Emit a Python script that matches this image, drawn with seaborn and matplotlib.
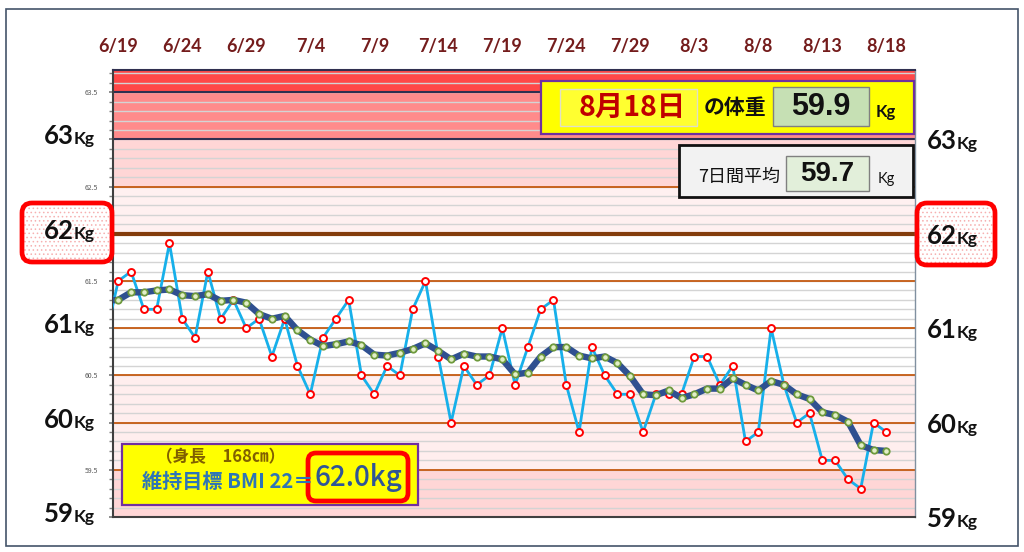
import numpy as np
import pandas as pd
import matplotlib
matplotlib.use("Agg")
import matplotlib.pyplot as plt
import seaborn as sns
from matplotlib.patches import Rectangle, FancyBboxPatch
from matplotlib.transforms import IdentityTransform, blended_transform_factory

# ---------------- data ----------------
dates = [f"{d.month}/{d.day}" for d in pd.date_range("2021-06-18", "2021-08-18")]
weights = [60.9,
           61.5, 61.6, 61.2, 61.2, 61.9, 61.1, 60.9, 61.6, 61.1, 61.3,
           61.0, 61.1, 60.7, 61.1, 60.6, 60.3, 60.9, 61.1, 61.3, 60.5,
           60.3, 60.6, 60.5, 61.2, 61.5, 60.7, 60.0, 60.6, 60.4, 60.5,
           61.0, 60.4, 60.8, 61.2, 61.3, 60.4, 59.9, 60.8, 60.5, 60.3,
           60.3, 59.9, 60.3, 60.3, 60.3, 60.7, 60.7, 60.4, 60.6, 59.8,
           59.9, 61.0, 60.4, 60.0, 60.1, 59.6, 59.6, 59.4, 59.3, 60.0,
           59.9]
avg7 = [61.29,
        61.30, 61.38, 61.38, 61.40, 61.41, 61.35, 61.34, 61.36, 61.29, 61.30,
        61.27, 61.15, 61.10, 61.13, 60.98, 60.88, 60.81, 60.83, 60.86, 60.82,
        60.72, 60.71, 60.74, 60.78, 60.84, 60.76, 60.67, 60.73, 60.70, 60.70,
        60.67, 60.51, 60.53, 60.70, 60.80, 60.80, 60.71, 60.68, 60.70, 60.63,
        60.49, 60.30, 60.29, 60.34, 60.26, 60.30, 60.36, 60.36, 60.47, 60.40,
        60.34, 60.44, 60.40, 60.30, 60.25, 60.11, 60.08, 60.01, 59.76, 59.71,
        59.70]
tick_dates = dates[1::5]
big_ticks = [59, 60, 61, 62, 63]
small_ticks = [59.5, 60.5, 61.5, 62.5, 63.5]
height_cm = 168
bmi_target = 22
target_kg = 62.0

df = pd.DataFrame({"idx": np.arange(len(dates)) - 1, "date": dates,
                   "weight": weights, "avg": avg7})

# ---------------- figure ----------------
sns.set_theme(style="white")
plt.rcParams['font.family'] = ['Noto Sans CJK JP', 'DejaVu Sans']
plt.rcParams['hatch.linewidth'] = 0.6

W, H = 1024, 552
fig = plt.figure(figsize=(W / 100, H / 100), dpi=100)
fig.patch.set_facecolor("white")
ax = fig.add_axes([113 / W, 35 / H, 802 / W, 447 / H])
ax.set_xlim(-0.41, 62.24)
ax.set_ylim(59.0, 63.735)

# bands
ax.axhspan(63.5, 64.0, color='#ff4848', zorder=0, lw=0)
ax.axhspan(63.0, 63.5, color='#ff8b8b', zorder=0, lw=0)
ax.axhspan(62.5, 63.0, color='#ffd6d6', zorder=0, lw=0)
ax.axhspan(62.0, 62.5, color='#fff0f0', zorder=0, lw=0)
ax.axhspan(60.5, 62.0, color='#ffffff', zorder=0, lw=0)
ax.axhspan(59.5, 60.5, color='#ffeeee', zorder=0, lw=0)
ax.axhspan(59.0, 59.5, color='#ffd6d6', zorder=0, lw=0)

for v in np.arange(59.1, 63.75, 0.1):
    ax.axhline(v, color='#d4d4d4', lw=1.0, zorder=1)
for v in [59.5, 60.0, 60.5, 61.0, 61.5, 62.5]:
    ax.axhline(v, color='#c55a11', lw=1.3, zorder=1.5)
for v in [63.0, 63.5]:
    ax.axhline(v, color='#303050', lw=1.5, zorder=1.5)
ax.axhline(target_kg, color='#843c0c', lw=3, zorder=1.6)

sns.lineplot(data=df, x="idx", y="weight", ax=ax, color='#17b0ea', lw=2,
             marker='o', markersize=5, markerfacecolor='white',
             markeredgecolor='#ff0000', markeredgewidth=1.4, zorder=3)
sns.lineplot(data=df, x="idx", y="avg", ax=ax, color='#2f5090', lw=4.6,
             marker='o', markersize=4.6, markerfacecolor='#e2efc8',
             markeredgecolor='#6e9a3c', markeredgewidth=1.3, zorder=4,
             solid_capstyle='round', solid_joinstyle='round')
ax.set_xlabel("")
ax.set_ylabel("")

# x ticks on top
ax.xaxis.tick_top()
ax.set_xticks(np.arange(0, 61, 5))
ax.set_xticklabels(tick_dates, fontsize=13, fontweight='bold', color='#741c1c',
                   family=['Lato', 'DejaVu Sans'])
ax.tick_params(axis='x', length=0, pad=11)

# y ticks
ax.set_yticks(np.arange(59.0, 63.51, 0.5))
ax.set_yticklabels([f"{v:.1f}" if v in small_ticks else "" for v in np.arange(59.0, 63.51, 0.5)],
                   fontsize=5, color='#595959')
ax.set_yticks(np.arange(59.0, 63.75, 0.1), minor=True)
ax.tick_params(axis='y', which='both', length=3, color='#808080', pad=8, left=True)
ax.grid(False)

for s in ['left', 'bottom']:
    ax.spines[s].set_color('#404040')
    ax.spines[s].set_linewidth(1.5)
ax.spines['top'].set_color('#303050')
ax.spines['top'].set_linewidth(1.5)
ax.spines['right'].set_color('#8090a0')
ax.spines['right'].set_linewidth(1.0)


def P(x, y):
    return (x, H - y)


ID = IdentityTransform()

# outer frame
fig.add_artist(Rectangle(P(6, 546), 1012, 537, transform=ID, fill=False,
                         edgecolor='#44546a', lw=1.2, zorder=0.5))

# 62Kg highlight boxes
for (x0, y0, x1, y1) in [(22, 203, 112, 262), (917, 203, 995, 265)]:
    fig.add_artist(FancyBboxPatch(P(x0, y1), x1 - x0, y1 - y0,
                                  boxstyle="round,pad=0,rounding_size=10",
                                  transform=ID, facecolor='white', edgecolor='#f6b0b0',
                                  hatch='....', lw=0, zorder=1))
    fig.add_artist(FancyBboxPatch(P(x0, y1), x1 - x0, y1 - y0,
                                  boxstyle="round,pad=0,rounding_size=10",
                                  transform=ID, facecolor='none', edgecolor='#ff0000',
                                  lw=3.4, zorder=1.2))

# big kg labels
tr = blended_transform_factory(ID, ax.transData)
for v in big_ticks:
    for (xs, off) in [(74, 5), (957, 10)]:
        yv = v - off / 94.5
        fig.text(xs, yv, f"{v}", transform=tr, ha='right', va='baseline',
                 fontsize=18.5, fontweight='bold', color='#111111',
                 family=['Lato', 'DejaVu Sans'], zorder=3)
        fig.text(xs, yv, "Kg", transform=tr, ha='left', va='baseline',
                 fontsize=12.5, fontweight='bold', color='#111111',
                 family=['Lato', 'DejaVu Sans'], zorder=3)

NUM = ['Liberation Sans', 'DejaVu Sans']
JP = ['Noto Sans CJK JP', 'DejaVu Sans']

# today's weight box
last_m, last_d = dates[-1].split("/")
fig.add_artist(Rectangle(P(541, 134), 373, 53, transform=ID, facecolor='#ffff00',
                         edgecolor='#7030a0', lw=1.6, zorder=5))
fig.add_artist(Rectangle(P(560, 126), 137, 37, transform=ID, facecolor='#ffff30',
                         edgecolor='#e0e0c8', lw=1.0, zorder=5.1))
fig.text(632, H - 108, f"{last_m}月{last_d}日", transform=ID, ha='center', va='center',
         fontsize=20.5, fontweight='bold', color='#c00000', family=JP, zorder=6)
fig.text(735, H - 108, "の体重", transform=ID, ha='center', va='center',
         fontsize=15, fontweight='bold', color='#111111', family=JP, zorder=6)
fig.add_artist(Rectangle(P(773, 126), 96, 39, transform=ID, facecolor='#c6e0b4',
                         edgecolor='#808080', lw=1.0, zorder=5.1))
fig.text(821, H - 107, f"{weights[-1]:.1f}", transform=ID, ha='center', va='center',
         fontsize=22, fontweight='bold', color='#111111', family=NUM, zorder=6)
fig.text(886, H - 112, "Kg", transform=ID, ha='center', va='center',
         fontsize=12, fontweight='bold', color='#111111', family=['Lato', 'DejaVu Sans'], zorder=6)

# 7-day average box
fig.add_artist(Rectangle(P(679, 197), 234, 52, transform=ID, facecolor='#f2f2f2',
                         edgecolor='#111111', lw=2.0, zorder=5))
fig.text(739, H - 177, "7日間平均", transform=ID, ha='center', va='center',
         fontsize=13, color='#111111', family=JP, zorder=6)
fig.add_artist(Rectangle(P(786, 191), 83, 35, transform=ID, facecolor='#e2efda',
                         edgecolor='#808080', lw=1.0, zorder=5.1))
fig.text(827, H - 174, f"{avg7[-1]:.1f}", transform=ID, ha='center', va='center',
         fontsize=20, fontweight='bold', color='#111111', family=NUM, zorder=6)
fig.text(886, H - 179, "Kg", transform=ID, ha='center', va='center',
         fontsize=10.5, color='#111111', family=['Lato', 'DejaVu Sans'], zorder=6)

# BMI box
fig.add_artist(Rectangle(P(122, 505), 296, 61, transform=ID, facecolor='#ffff00',
                         edgecolor='#7030a0', lw=1.6, zorder=5))
fig.text(221, H - 457, f"（身長　{height_cm}㎝）", transform=ID, ha='center', va='center',
         fontsize=12, fontweight='bold', color='#806000', family=JP, zorder=6)
fig.text(142, H - 481, f"維持目標 BMI {bmi_target}＝", transform=ID, ha='left', va='center',
         fontsize=14.5, fontweight='bold', color='#2e75b6', family=JP, zorder=6)
fig.add_artist(FancyBboxPatch(P(308, 501), 100, 48,
                              boxstyle="round,pad=0,rounding_size=8",
                              transform=ID, facecolor='none', edgecolor='#ff0000',
                              lw=3.4, zorder=5.5))
fig.text(358, H - 478, f"{target_kg:.1f}kg", transform=ID, ha='center', va='center',
         fontsize=20, fontweight='medium', color='#2f5597', family=JP, zorder=6)

fig.savefig("out.png", dpi=100)
